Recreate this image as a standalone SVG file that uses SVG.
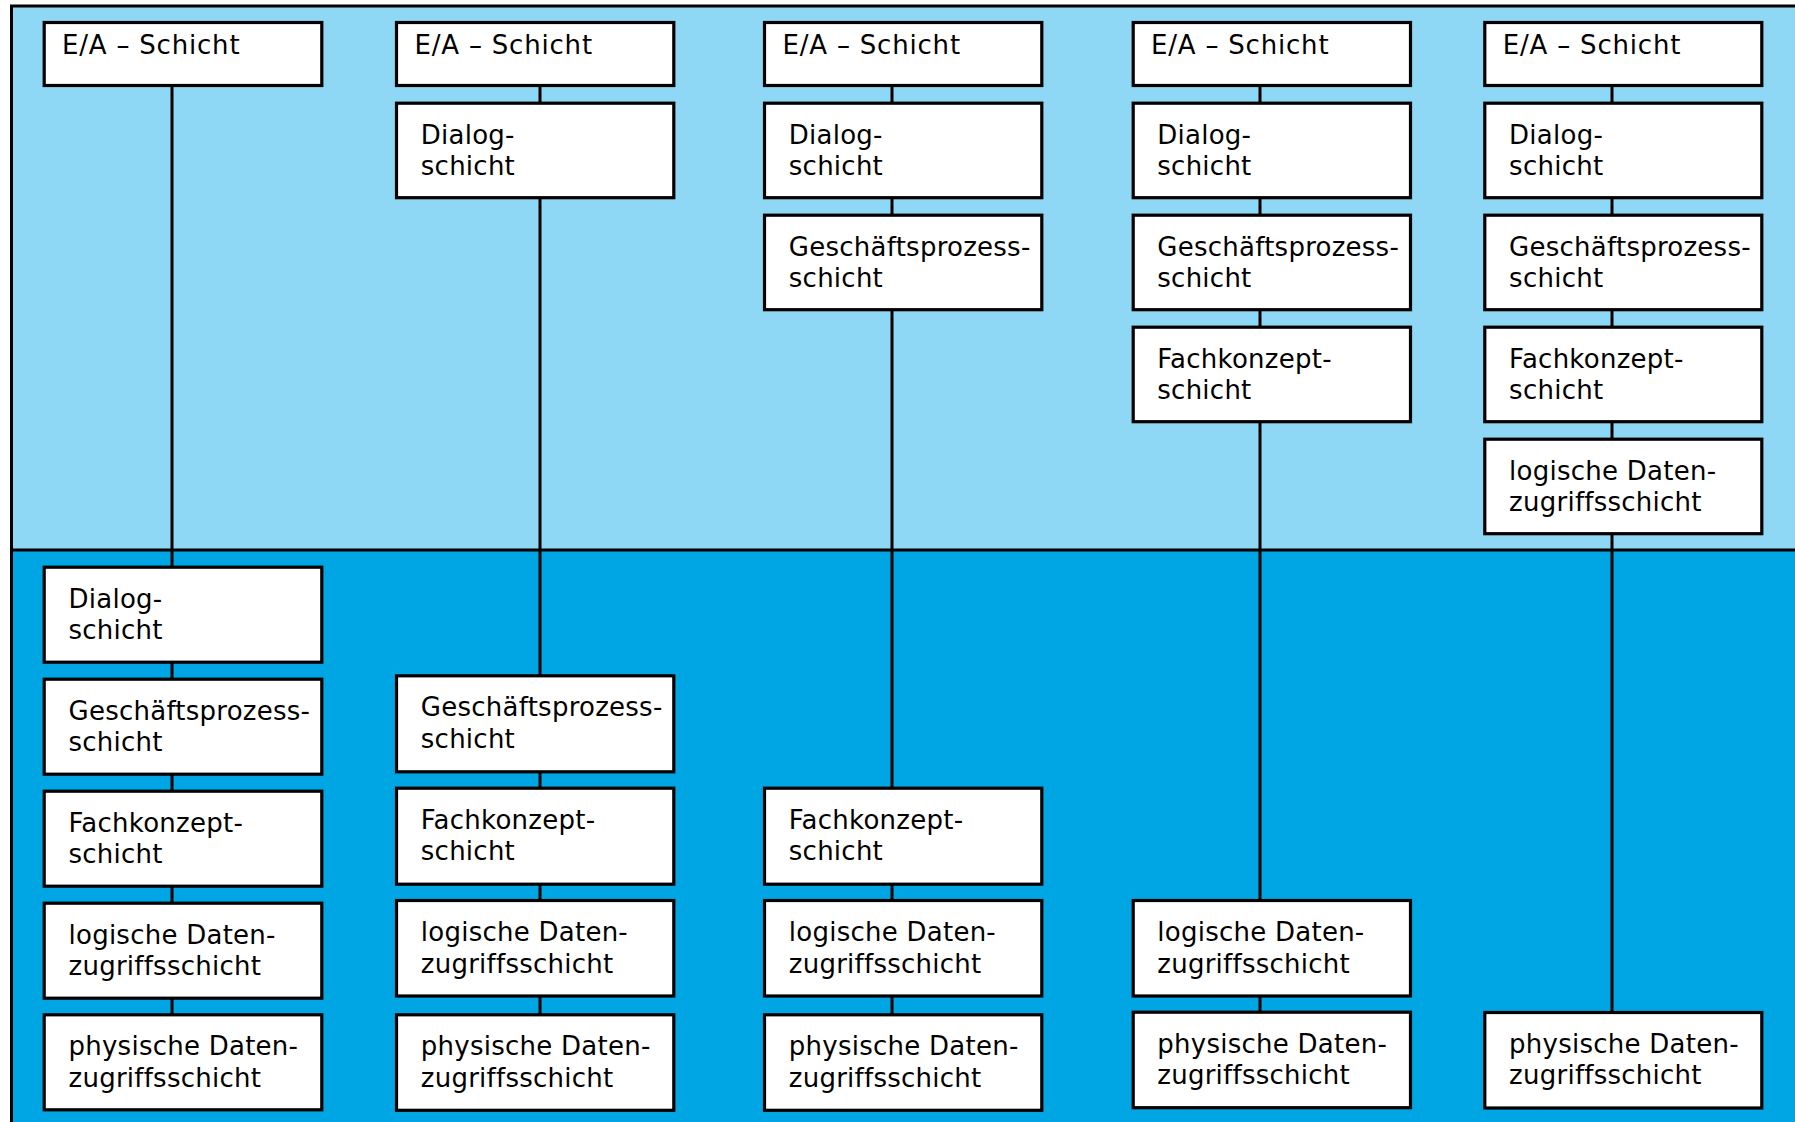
<svg xmlns="http://www.w3.org/2000/svg" width="1795" height="1122" viewBox="0 0 1795 1122">
<style>
.box{fill:#ffffff;stroke:#000000;stroke-width:3.2}
.t{font-family:"DejaVu Sans","Noto Sans",sans-serif;font-size:26px;letter-spacing:0.25px;fill:#000000}
.ea{letter-spacing:0.8px}
.con{stroke:#000000;stroke-width:3;fill:none}
</style>
<rect x="0" y="0" width="1795" height="1122" fill="#ffffff"/>
<rect x="11.5" y="6" width="1790" height="544" fill="#8ED8F5"/>
<rect x="11.5" y="550" width="1790" height="580" fill="#00A6E4"/>
<path d="M11.5,1130 V6 H1800" fill="none" stroke="#000" stroke-width="3"/>
<line x1="11.5" y1="550" x2="1795" y2="550" stroke="#000" stroke-width="3"/>
<g id="connectors">
<line class="con" x1="172" y1="86" x2="172" y2="1014"/>
<line class="con" x1="540" y1="86" x2="540" y2="1014"/>
<line class="con" x1="892" y1="86" x2="892" y2="1014"/>
<line class="con" x1="1260" y1="86" x2="1260" y2="1012"/>
<line class="con" x1="1612" y1="86" x2="1612" y2="1012"/>
</g>
<!-- Column 1 -->
<g id="c1-ea"><rect class="box" x="44.2" y="22.5" width="277.6" height="63"/><text class="t ea" x="62" y="53.5">E/A – Schicht</text></g>
<g id="c1-dialog"><rect class="box" x="44.2" y="567.2" width="277.6" height="95"/><text class="t" x="68.5" y="607.5">Dialog-</text><text class="t" x="68.5" y="639">schicht</text></g>
<g id="c1-gp"><rect class="box" x="44.2" y="679.2" width="277.6" height="95"/><text class="t" x="68.5" y="719.5">Geschäftsprozess-</text><text class="t" x="68.5" y="751">schicht</text></g>
<g id="c1-fk"><rect class="box" x="44.2" y="791.2" width="277.6" height="95"/><text class="t" x="68.5" y="831.5">Fachkonzept-</text><text class="t" x="68.5" y="863">schicht</text></g>
<g id="c1-ld"><rect class="box" x="44.2" y="903.2" width="277.6" height="95"/><text class="t" x="68.5" y="943.5">logische Daten-</text><text class="t" x="68.5" y="975">zugriffsschicht</text></g>
<g id="c1-pd"><rect class="box" x="44.2" y="1014.8" width="277.6" height="95"/><text class="t" x="68.5" y="1055">physische Daten-</text><text class="t" x="68.5" y="1086.5">zugriffsschicht</text></g>
<!-- Column 2 -->
<g id="c2-ea"><rect class="box" x="396.5" y="22.5" width="277.3" height="63"/><text class="t ea" x="414.5" y="53.5">E/A – Schicht</text></g>
<g id="c2-dialog"><rect class="box" x="396.5" y="103.2" width="277.3" height="94.5"/><text class="t" x="420.8" y="143.5">Dialog-</text><text class="t" x="420.8" y="175">schicht</text></g>
<g id="c2-gp"><rect class="box" x="396.5" y="675.8" width="277.3" height="96"/><text class="t" x="420.8" y="716">Geschäftsprozess-</text><text class="t" x="420.8" y="747.5">schicht</text></g>
<g id="c2-fk"><rect class="box" x="396.5" y="788.2" width="277.3" height="96"/><text class="t" x="420.8" y="828.5">Fachkonzept-</text><text class="t" x="420.8" y="860">schicht</text></g>
<g id="c2-ld"><rect class="box" x="396.5" y="900.5" width="277.3" height="95.5"/><text class="t" x="420.8" y="941">logische Daten-</text><text class="t" x="420.8" y="972.5">zugriffsschicht</text></g>
<g id="c2-pd"><rect class="box" x="396.5" y="1014.8" width="277.3" height="95.5"/><text class="t" x="420.8" y="1055">physische Daten-</text><text class="t" x="420.8" y="1086.5">zugriffsschicht</text></g>
<!-- Column 3 -->
<g id="c3-ea"><rect class="box" x="764.5" y="22.5" width="277.3" height="63"/><text class="t ea" x="782.5" y="53.5">E/A – Schicht</text></g>
<g id="c3-dialog"><rect class="box" x="764.5" y="103.2" width="277.3" height="94.5"/><text class="t" x="788.8" y="143.5">Dialog-</text><text class="t" x="788.8" y="175">schicht</text></g>
<g id="c3-gp"><rect class="box" x="764.5" y="215.2" width="277.3" height="94.5"/><text class="t" x="788.8" y="255.5">Geschäftsprozess-</text><text class="t" x="788.8" y="287">schicht</text></g>
<g id="c3-fk"><rect class="box" x="764.5" y="788.2" width="277.3" height="96"/><text class="t" x="788.8" y="828.5">Fachkonzept-</text><text class="t" x="788.8" y="860">schicht</text></g>
<g id="c3-ld"><rect class="box" x="764.5" y="900.5" width="277.3" height="95.5"/><text class="t" x="788.8" y="941">logische Daten-</text><text class="t" x="788.8" y="972.5">zugriffsschicht</text></g>
<g id="c3-pd"><rect class="box" x="764.5" y="1014.8" width="277.3" height="95.5"/><text class="t" x="788.8" y="1055">physische Daten-</text><text class="t" x="788.8" y="1086.5">zugriffsschicht</text></g>
<!-- Column 4 -->
<g id="c4-ea"><rect class="box" x="1133.2" y="22.5" width="277.3" height="63"/><text class="t ea" x="1151" y="53.5">E/A – Schicht</text></g>
<g id="c4-dialog"><rect class="box" x="1133.2" y="103.2" width="277.3" height="94.5"/><text class="t" x="1157.3" y="143.5">Dialog-</text><text class="t" x="1157.3" y="175">schicht</text></g>
<g id="c4-gp"><rect class="box" x="1133.2" y="215.2" width="277.3" height="94.5"/><text class="t" x="1157.3" y="255.5">Geschäftsprozess-</text><text class="t" x="1157.3" y="287">schicht</text></g>
<g id="c4-fk"><rect class="box" x="1133.2" y="327.2" width="277.3" height="94.5"/><text class="t" x="1157.3" y="367.5">Fachkonzept-</text><text class="t" x="1157.3" y="399">schicht</text></g>
<g id="c4-ld"><rect class="box" x="1133.2" y="900.5" width="277.3" height="95.5"/><text class="t" x="1157.3" y="941">logische Daten-</text><text class="t" x="1157.3" y="972.5">zugriffsschicht</text></g>
<g id="c4-pd"><rect class="box" x="1133.2" y="1012.2" width="277.3" height="95.5"/><text class="t" x="1157.3" y="1052.5">physische Daten-</text><text class="t" x="1157.3" y="1084">zugriffsschicht</text></g>
<!-- Column 5 -->
<g id="c5-ea"><rect class="box" x="1484.8" y="22.5" width="277" height="63"/><text class="t ea" x="1502.8" y="53.5">E/A – Schicht</text></g>
<g id="c5-dialog"><rect class="box" x="1484.8" y="103.2" width="277" height="94.5"/><text class="t" x="1509.1" y="143.5">Dialog-</text><text class="t" x="1509.1" y="175">schicht</text></g>
<g id="c5-gp"><rect class="box" x="1484.8" y="215.2" width="277" height="94.5"/><text class="t" x="1509.1" y="255.5">Geschäftsprozess-</text><text class="t" x="1509.1" y="287">schicht</text></g>
<g id="c5-fk"><rect class="box" x="1484.8" y="327.2" width="277" height="94.5"/><text class="t" x="1509.1" y="367.5">Fachkonzept-</text><text class="t" x="1509.1" y="399">schicht</text></g>
<g id="c5-ld"><rect class="box" x="1484.8" y="439.2" width="277" height="94.5"/><text class="t" x="1509.1" y="479.5">logische Daten-</text><text class="t" x="1509.1" y="511">zugriffsschicht</text></g>
<g id="c5-pd"><rect class="box" x="1484.8" y="1012.5" width="277" height="95.5"/><text class="t" x="1509.1" y="1052.8">physische Daten-</text><text class="t" x="1509.1" y="1084.3">zugriffsschicht</text></g>
</svg>
